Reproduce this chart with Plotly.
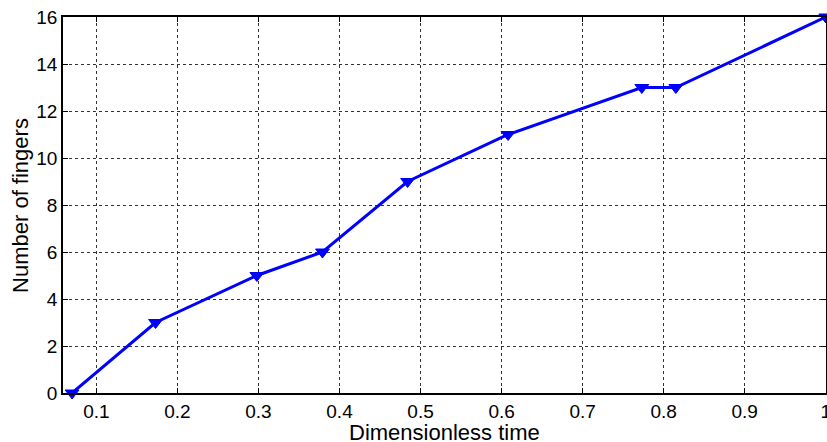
import plotly.graph_objects as go

time_vals = [0.07, 0.173, 0.298, 0.379, 0.484, 0.608, 0.773, 0.815, 1.0]
fingers = [0, 3, 5, 6, 9, 11, 13, 13, 16]
x_ticks = [0.1, 0.2, 0.3, 0.4, 0.5, 0.6, 0.7, 0.8, 0.9, 1.0]
x_tick_labels = ["0.1", "0.2", "0.3", "0.4", "0.5", "0.6", "0.7", "0.8", "0.9", "1"]
y_ticks = [0, 2, 4, 6, 8, 10, 12, 14, 16]
x_title = "Dimensionless time"
y_title = "Number of fingers"

FONT = "Liberation Sans, Arial, sans-serif"

fig = go.Figure()
fig.add_trace(go.Scatter(
    x=time_vals, y=fingers, mode="lines+markers",
    line=dict(color="#0000ff", width=3),
    marker=dict(symbol="triangle-down", size=12, color="#0000ff",
                line=dict(color="#0000ff", width=1)),
    cliponaxis=False,
))

axis_common = dict(
    showline=True, linecolor="black", linewidth=1.5, mirror="ticks",
    ticks="inside", ticklen=5, tickcolor="black",
    showgrid=True, gridcolor="#333333", griddash="dot", gridwidth=1,
    zeroline=False, automargin=False, ticklabeloverflow="allow",
    tickfont=dict(family=FONT, size=19, color="black"),
)

fig.update_xaxes(range=[0.0588, 1.0003], tickvals=x_ticks, ticktext=x_tick_labels,
                 ticklabelstandoff=0, **axis_common)
fig.update_yaxes(range=[0, 16], tickvals=y_ticks, **axis_common)

fig.add_annotation(text=x_title, xref="paper", yref="paper", x=0.5, y=-0.104,
                   xanchor="center", yanchor="middle", showarrow=False,
                   font=dict(family=FONT, size=22, color="black"))
fig.add_annotation(text=y_title, xref="paper", yref="paper", x=-0.0564, y=0.5,
                   xanchor="center", yanchor="middle", showarrow=False, textangle=-90,
                   font=dict(family=FONT, size=22, color="black"))

fig.update_layout(
    width=827, height=442,
    margin=dict(l=63, r=1, t=17, b=49),
    paper_bgcolor="white", plot_bgcolor="white",
    showlegend=False,
)

fig.write_html("out.html", config={"displayModeBar": False},
               post_script="document.body.style.margin='0';document.body.style.overflow='hidden';")
